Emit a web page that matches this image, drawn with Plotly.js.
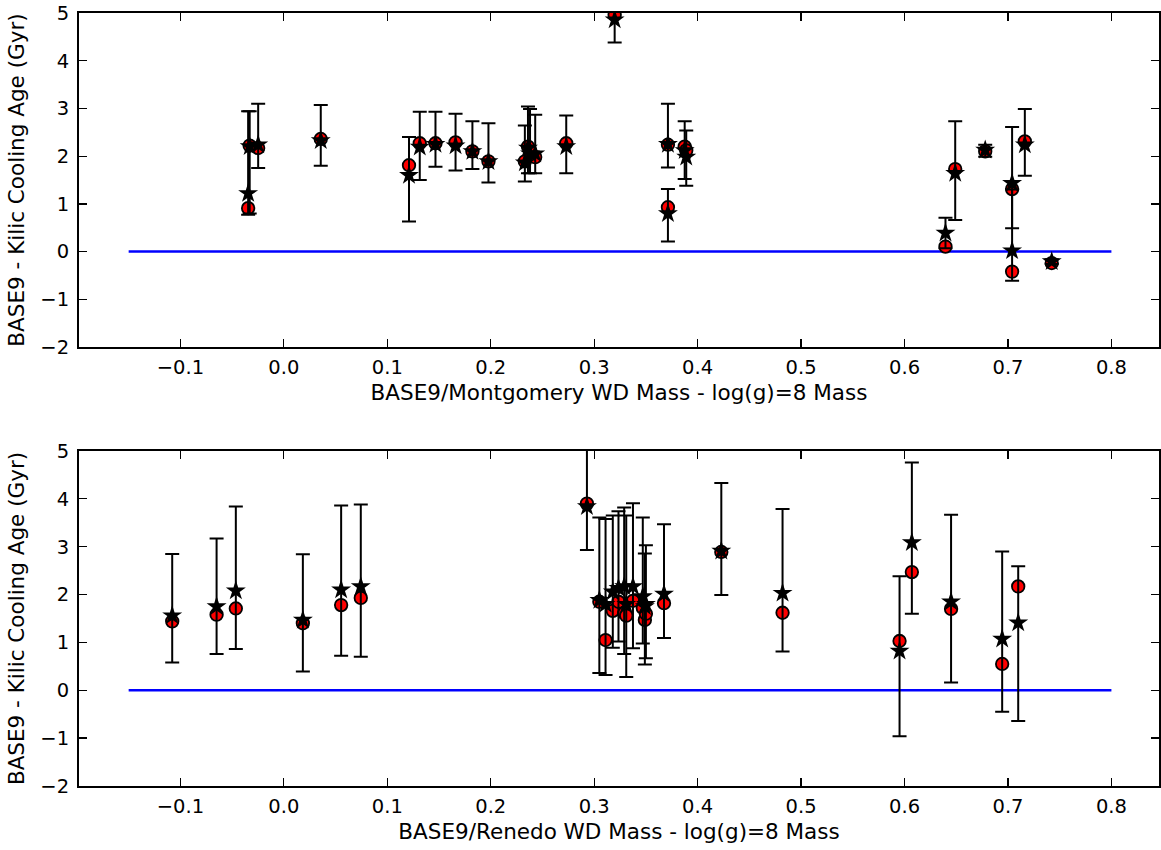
<!DOCTYPE html>
<html>
<head>
<meta charset="utf-8">
<script src="https://cdn.plot.ly/plotly-3.0.1.min.js"></script>
<style>html,body{margin:0;padding:0;background:#fff;}#chart{width:1161px;height:850px;}</style>
</head>
<body>
<div id="chart"></div>
<script>
// ---- Top panel: BASE9/Montgomery ----
const topMass   = [-0.0345,-0.033,-0.0248,0.0357,0.121,0.1314,0.1466,0.166,0.1823,0.1978,0.233,0.236,0.238,0.243,0.273,0.3198,0.3713,0.3713,0.3875,0.389,0.6396,0.649,0.678,0.704,0.704,0.7163,0.7423];
const topCircle = [0.91,2.22,2.17,2.36,1.81,2.27,2.27,2.29,2.10,1.89,1.89,2.20,2.10,1.98,2.27,4.96,2.24,0.93,2.20,2.12,0.105,1.73,2.10,1.31,-0.42,2.31,-0.24];
const topStar   = [1.22,2.20,2.24,2.33,1.60,2.19,2.25,2.22,2.10,1.89,1.86,2.17,2.05,2.05,2.20,4.86,2.25,0.80,2.12,1.98,0.39,1.64,2.13,1.43,0.02,2.24,-0.21];
const topErrHi  = [2.94,2.94,3.10,3.07,2.40,2.93,2.93,2.89,2.73,2.69,2.64,3.04,2.99,2.87,2.85,5.34,3.10,1.31,2.73,2.54,0.71,2.73,2.24,2.61,1.30,2.99,-0.16];
const topErrLo  = [0.77,0.80,1.75,1.80,0.63,1.50,1.78,1.70,1.73,1.45,1.47,1.64,1.64,1.64,1.64,4.38,1.76,0.21,1.52,1.38,0.07,0.66,1.99,0.49,-0.61,1.59,-0.26];

// ---- Bottom panel: BASE9/Renedo ----
const botMass   = [-0.1079,-0.065,-0.0464,0.0184,0.0554,0.0744,0.293,0.305,0.311,0.318,0.3235,0.329,0.331,0.3375,0.347,0.349,0.350,0.3675,0.4229,0.4821,0.5952,0.6071,0.645,0.6944,0.7099];
const botCircle = [1.44,1.58,1.71,1.40,1.78,1.93,3.90,1.85,1.05,1.66,1.85,1.61,1.56,1.87,1.72,1.47,1.60,1.82,2.89,1.62,1.03,2.47,1.70,0.55,2.17];
const botStar   = [1.56,1.75,2.08,1.47,2.10,2.17,3.84,1.88,1.80,2.06,2.13,2.17,1.80,2.17,1.96,1.75,1.80,2.01,2.91,2.03,0.82,3.09,1.85,1.07,1.41];
const botErrHi  = [2.85,3.17,3.84,2.84,3.86,3.88,5.30,3.61,3.58,3.65,3.74,3.82,3.65,3.91,3.61,2.86,3.03,3.47,4.33,3.79,2.38,4.76,3.67,2.90,2.59];
const botErrLo  = [0.58,0.76,0.86,0.39,0.72,0.70,2.93,0.36,0.32,0.89,1.02,0.76,0.28,0.88,0.98,0.54,0.67,1.09,1.99,0.81,-0.96,1.60,0.16,-0.45,-0.64];

const refLineX = [-0.15, 0.8];
const refLineY = [0, 0];

const xTicks = [-0.1,0,0.1,0.2,0.3,0.4,0.5,0.6,0.7,0.8];
const xTickText = ['\u22120.1','0.0','0.1','0.2','0.3','0.4','0.5','0.6','0.7','0.8'];
const yTicks = [-2,-1,0,1,2,3,4,5];
const yTickText = ['\u22122','\u22121','0','1','2','3','4','5'];

function circleTrace(x, y, xa, ya) {
  return {x, y, xaxis: xa, yaxis: ya, type: 'scatter', mode: 'markers', showlegend: false,
    marker: {symbol: 'circle', size: 12.5, color: '#ff0000', line: {color: '#000', width: 1.8}}};
}
function starTrace(x, y, hi, lo, xa, ya) {
  return {x, y, xaxis: xa, yaxis: ya, type: 'scatter', mode: 'markers', showlegend: false,
    marker: {symbol: 'star', size: 15, color: '#000', line: {color: '#000', width: 0}},
    error_y: {type: 'data', symmetric: false,
      array: hi.map((h, i) => h - y[i]), arrayminus: lo.map((l, i) => y[i] - l),
      color: '#000', thickness: 2, width: 7}};
}
function lineTrace(xa, ya) {
  return {x: refLineX, y: refLineY, xaxis: xa, yaxis: ya, type: 'scatter', mode: 'lines',
    showlegend: false, line: {color: '#0000ff', width: 2.5}};
}

const data = [
  lineTrace('x', 'y'),
  circleTrace(topMass, topCircle, 'x', 'y'),
  starTrace(topMass, topStar, topErrHi, topErrLo, 'x', 'y'),
  lineTrace('x2', 'y2'),
  circleTrace(botMass, botCircle, 'x2', 'y2'),
  starTrace(botMass, botStar, botErrHi, botErrLo, 'x2', 'y2')
];

const tickFont = {family: 'DejaVu Sans', size: 19.5, color: '#000'};
const titleFont = {family: 'DejaVu Sans', size: 21.5, color: '#000'};
function xAxis(title, anchor) {
  return {anchor, range: [-0.198, 0.846], tickmode: 'array', tickvals: xTicks, ticktext: xTickText,
    ticks: 'inside', ticklen: 8, tickwidth: 1.3, tickcolor: '#000', mirror: 'ticks',
    showline: true, linecolor: '#000', linewidth: 2, showgrid: false, zeroline: false,
    tickfont: tickFont, ticklabelstandoff: 2,
    title: {text: title, font: titleFont, standoff: 7}};
}
function yAxis(domain, anchor) {
  return {domain, anchor, range: [-2, 5], tickmode: 'array', tickvals: yTicks, ticktext: yTickText,
    ticks: 'inside', ticklen: 8, tickwidth: 1.3, tickcolor: '#000', mirror: 'ticks',
    showline: true, linecolor: '#000', linewidth: 2, showgrid: false, zeroline: false,
    tickfont: tickFont, ticklabelstandoff: 4,
    title: {text: 'BASE9 - Kilic Cooling Age (Gyr)', font: titleFont, standoff: 10}};
}

const layout = {
  width: 1161, height: 850,
  margin: {l: 79, r: 2, t: 13, b: 64},
  paper_bgcolor: '#fff', plot_bgcolor: '#fff',
  font: tickFont,
  xaxis: xAxis('BASE9/Montgomery WD Mass - log(g)=8 Mass', 'y'),
  yaxis: yAxis([0.5679, 1], 'x'),
  xaxis2: xAxis('BASE9/Renedo WD Mass - log(g)=8 Mass', 'y2'),
  yaxis2: yAxis([0, 0.4334], 'x2')
};

Plotly.newPlot('chart', data, layout, {displayModeBar: false, staticPlot: true});
</script>
</body>
</html>
